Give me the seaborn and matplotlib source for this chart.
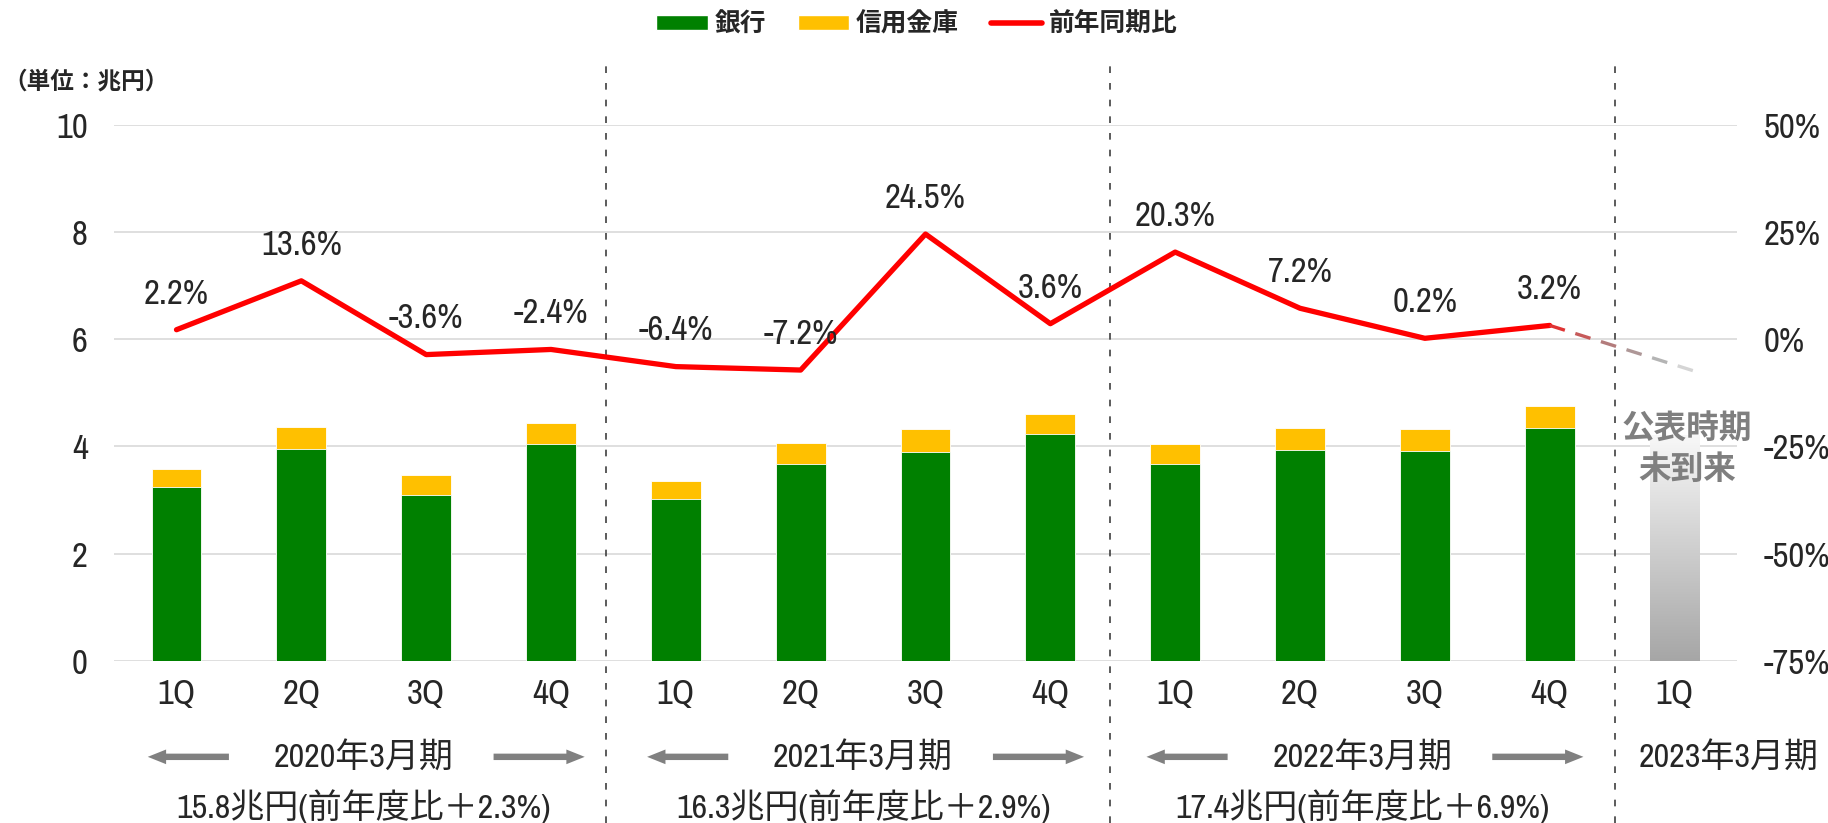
import numpy as np
import pandas as pd
import matplotlib
matplotlib.use('Agg')
import matplotlib.pyplot as plt
import matplotlib.font_manager as fm
import matplotlib.transforms as mtransforms
from matplotlib.collections import LineCollection
from matplotlib.colors import LinearSegmentedColormap
from matplotlib.lines import Line2D
from matplotlib.patches import Patch
import seaborn as sns

# 四半期ごとの貸出額(兆円)と前年同期比(%)
quarters = ['1Q', '2Q', '3Q', '4Q'] * 3 + ['1Q']
fiscal_years = ['2020年3月期', '2021年3月期', '2022年3月期', '2023年3月期']
year_of_quarter = [0, 0, 0, 0, 1, 1, 1, 1, 2, 2, 2, 2, 3]
bank = [3.24, 3.95, 3.10, 4.05, 3.02, 3.67, 3.90, 4.23, 3.67, 3.93, 3.91, 4.34]
shinkin = [0.34, 0.42, 0.37, 0.39, 0.34, 0.39, 0.42, 0.37, 0.37, 0.42, 0.42, 0.41]
yoy = [2.2, 13.6, -3.6, -2.4, -6.4, -7.2, 24.5, 3.6, 20.3, 7.2, 0.2, 3.2]
annual_notes = ['15.8兆円(前年度比＋2.3%)', '16.3兆円(前年度比＋2.9%)',
                '17.4兆円(前年度比＋6.9%)']
pending_label = '公表時期\n未到来'
pending_height = 4.22
trend_end = (12.23, -8.1)
separators = [3.44, 7.48, 11.52]

GREEN = '#008000'
YELLOW = '#ffc000'
RED = '#ff0000'
GRID = '#d9d9d9'
NUM_SIZE = 25
JP_SIZE = 24.5

sns.set_style('white')

# 数字は細身のフォントがあればそれを使う
names = sorted({f.name for f in fm.fontManager.ttflist})
narrow = next((n for n in names if 'Narrow' in n or 'Condensed' in n), None)
stretch = 'normal'
if narrow is None:
    narrow = 'DejaVu Sans'
    if any(f.name == 'DejaVu Sans' and f.stretch == 'condensed' for f in fm.fontManager.ttflist):
        stretch = 'condensed'
    else:
        narrow = 'Liberation Sans'
plt.rcParams['font.family'] = [narrow, 'Noto Sans CJK JP', 'DejaVu Sans']
plt.rcParams['font.stretch'] = stretch

keys = [f'{fiscal_years[y]}-{q}' for y, q in zip(year_of_quarter, quarters)]
df = pd.DataFrame({'key': keys[:12], 'bank': bank, 'shinkin': shinkin})
df['total'] = df['bank'] + df['shinkin']

fig, ax = plt.subplots(figsize=(18.28, 8.23), dpi=100)
fig.subplots_adjust(left=0.0624, right=0.9502, bottom=0.197, top=0.8485)

# 積み上げ棒: 合計(信用金庫色)の上に銀行を重ねる
sns.barplot(data=df, x='key', y='total', order=keys, color=YELLOW, width=0.4,
            saturation=1, errorbar=None, edgecolor='white', linewidth=0.6, ax=ax)
sns.barplot(data=df, x='key', y='bank', order=keys, color=GREEN, width=0.4,
            saturation=1, errorbar=None, edgecolor='white', linewidth=0.6, ax=ax)

# 未公表の棒 (グラデーション)
fade = LinearSegmentedColormap.from_list('fade', ['#a6a6a6', '#f8f8f8'])
pbar = ax.bar(12, pending_height, width=0.4, color='none', lw=0)
grad = np.linspace(0, 1, 256).reshape(-1, 1)
im = ax.imshow(grad, extent=(11.8, 12.2, 0, pending_height), origin='lower',
               aspect='auto', cmap=fade, zorder=2)
im.set_clip_path(pbar[0])
ax.text(12.1, 3.95, pending_label, ha='center', va='center', fontsize=23.5,
        fontweight='bold', color='#7f7f7f', linespacing=1.3, zorder=5,
        family=['Noto Sans CJK JP'])

ax.set_xlim(-0.5, 12.5)
ax.set_ylim(0, 10)
ax.set_yticks(range(0, 11, 2))
ax.set_xticks(range(len(keys)))
ax.set_xticklabels(quarters)
ax.set_xlabel('')
ax.set_ylabel('')
ax.set_axisbelow(True)
ax.grid(axis='y', color=GRID, lw=1.2)
ax.grid(axis='x', visible=False)
ax.tick_params(axis='y', length=0, pad=19, labelsize=NUM_SIZE)
ax.tick_params(axis='x', length=0, pad=12, labelsize=NUM_SIZE)
sns.despine(ax=ax, left=True, bottom=True)

for xs in separators:
    ax.axvline(xs, ymin=-0.302, ymax=1.1225, clip_on=False, color='#404040',
               lw=1.2, ls=(0, (4, 6)), zorder=1)

# 前年同期比 (右軸)
ax2 = ax.twinx()
sns.lineplot(x=np.arange(len(yoy)), y=yoy, ax=ax2, color=RED, lw=3.8, sort=False)
ax2.lines[0].set_solid_capstyle('round')
ax2.lines[0].set_solid_joinstyle('round')
for i, v in enumerate(yoy):
    ax2.annotate(f'{v:.1f}%', (i, v), xytext=(0, 26), textcoords='offset points',
                 ha='center', va='center', fontsize=NUM_SIZE)

# 見込みの破線 (赤からグレーへ)
trend_cmap = LinearSegmentedColormap.from_list(
    'trend', ['#e62a2a', '#b47474', '#aaaaaa', '#ececec'])
x0, y0 = len(yoy) - 1, yoy[-1]
x1, y1 = trend_end
n_dash, duty = 6, 16 / 27
segs = []
for k in range(n_dash):
    t0, t1 = k / n_dash, (k + duty) / n_dash
    segs.append([(x0 + (x1 - x0) * t0, y0 + (y1 - y0) * t0),
                 (x0 + (x1 - x0) * t1, y0 + (y1 - y0) * t1)])
lc = LineCollection(segs, colors=trend_cmap((np.arange(n_dash) + duty / 2) / n_dash),
                    linewidths=2.4, capstyle='butt')
ax2.add_collection(lc)

ax2.set_ylim(-75, 50)
ax2.set_yticks(range(-75, 51, 25))
ax2.yaxis.set_major_formatter(lambda v, p: f'{v:.0f}%')
ax2.tick_params(axis='y', length=0, pad=19.5, labelsize=NUM_SIZE)
ax2.grid(False)
ax2.set_ylabel('')
sns.despine(ax=ax2, left=True, right=True, bottom=True)
ax.set_xlim(-0.5, 12.5)

# 年度ラベル・矢印・年間合計
trans = mtransforms.blended_transform_factory(ax.transData, ax.transAxes)
arrow_kw = dict(arrowstyle='simple,head_length=0.6,head_width=0.48,tail_width=0.21',
                color='#808080', lw=0, shrinkA=0, shrinkB=0, mutation_scale=22)
for g, name in enumerate(fiscal_years):
    idx = [i for i, y in enumerate(year_of_quarter) if y == g]
    if g == 3:
        ax.text(idx[0] + 0.43, -0.179, name, transform=trans, ha='center',
                va='center', fontsize=JP_SIZE)
        continue
    center = (idx[0] + idx[-1]) / 2
    ax.text(center, -0.179, name, transform=trans, ha='center', va='center',
            fontsize=JP_SIZE)
    ax.text(center, -0.272, annual_notes[g], transform=trans, ha='center',
            va='center', fontsize=JP_SIZE)
    ax.annotate('', xy=(idx[0] - 0.23, -0.179), xytext=(idx[0] + 0.42, -0.179),
                xycoords=trans, textcoords=trans, arrowprops=arrow_kw,
                annotation_clip=False)
    ax.annotate('', xy=(idx[-1] + 0.27, -0.179), xytext=(idx[-1] - 0.46, -0.179),
                xycoords=trans, textcoords=trans, arrowprops=arrow_kw,
                annotation_clip=False)

fig.text(0.002, 1 - 81 / 823, '（単位：兆円）', fontsize=17, fontweight='bold',
         va='center', ha='left', family=['Noto Sans CJK JP'])

handles = [Patch(facecolor=GREEN), Patch(facecolor=YELLOW),
           Line2D([], [], color=RED, lw=4, solid_capstyle='round')]
fig.legend(handles, ['銀行', '信用金庫', '前年同期比'], loc='center',
           bbox_to_anchor=(0.5016, 1 - 24 / 823), ncol=3, frameon=False,
           prop={'weight': 'bold', 'size': 18.5, 'family': ['Noto Sans CJK JP']},
           handlelength=2.0, handleheight=0.5, handletextpad=0.25, columnspacing=1.25)

fig.savefig('out.png', dpi=100)
